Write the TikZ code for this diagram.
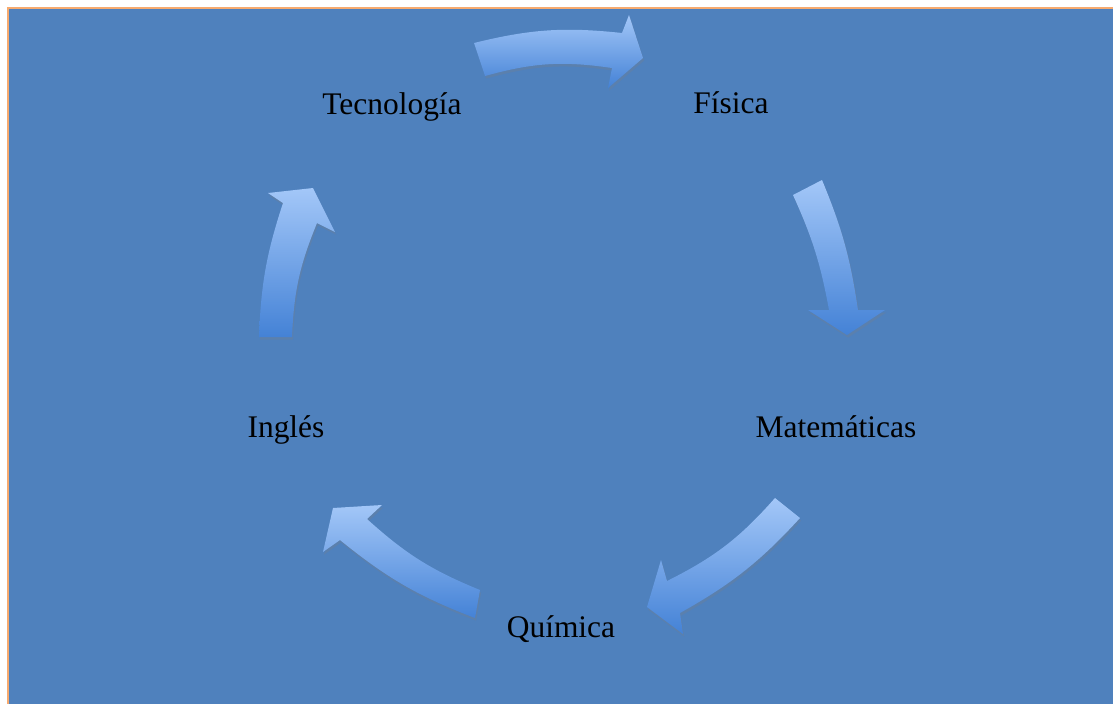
\documentclass[tikz,border=0pt]{standalone}
\usepackage{fontspec}
\setmainfont{Liberation Serif}
\usetikzlibrary{shadows}
\definecolor{bgblue}{RGB}{79,129,189}
\definecolor{rimorange}{RGB}{247,170,110}
\definecolor{arrowlight}{RGB}{163,199,248}
\definecolor{arrowdark}{RGB}{68,130,214}

\begin{document}
\begin{tikzpicture}[x=0.02cm, y=-0.02cm,
    subject/.style={font=\fontsize{17.9}{20}\selectfont, anchor=base, inner sep=0pt},
    cyclearrow/.style={top color=arrowlight, bottom color=arrowdark, draw=none,
      drop shadow={opacity=0.25, shadow xshift=0.6pt, shadow yshift=-1.5pt}}]

  % Canvas
  \useasboundingbox (0,0) rectangle (1113,704);
  \fill[white] (0,0) rectangle (1113,704);
  \fill[bgblue] (8,8) rectangle (1113,704);
  \draw[rimorange, line width=0.8pt] (1113,8) -- (8,8) -- (8,704);

  % Subjects
  \node[subject] (tec) at (392,114) {Tecnología};
  \node[subject] (fis) at (731,113) {Física};
  \node[subject] (mat) at (836,437) {Matemáticas};
  \node[subject] (qui) at (561,637) {Química};
  \node[subject] (ing) at (286,437) {Inglés};

  % Tecnologia -> Fisica
  \path[cyclearrow] (474,43) to[bend left=10] (622,33) -- (629,15) -- (643,58)
    -- (608,88) -- (612,68) to[bend right=12] (485,76) -- cycle;

  % Fisica -> Matematicas
  \path[cyclearrow] (822,180) to[bend left=7] (858,310) -- (885,310) -- (847,335)
    -- (808,310) -- (829,310) to[bend right=7] (793,195) -- cycle;

  % Matematicas -> Quimica
  \path[cyclearrow] (800,518) to[bend left=9] (680,613) -- (683,634) -- (647,607)
    -- (661,560) -- (667,581) to[bend right=11] (775,498) -- cycle;

  % Quimica -> Ingles
  \path[cyclearrow] (475,618) to[bend left=9] (340,540) -- (323,552) -- (333,508)
    -- (382,505) -- (367,519) to[bend right=10] (480,590) -- cycle;

  % Ingles -> Tecnologia
  \path[cyclearrow] (259,337) to[bend left=8] (283,203) -- (268,193) -- (313,188)
    -- (335,232) -- (317,223) to[bend right=10] (292,337) -- cycle;

\end{tikzpicture}
\end{document}
